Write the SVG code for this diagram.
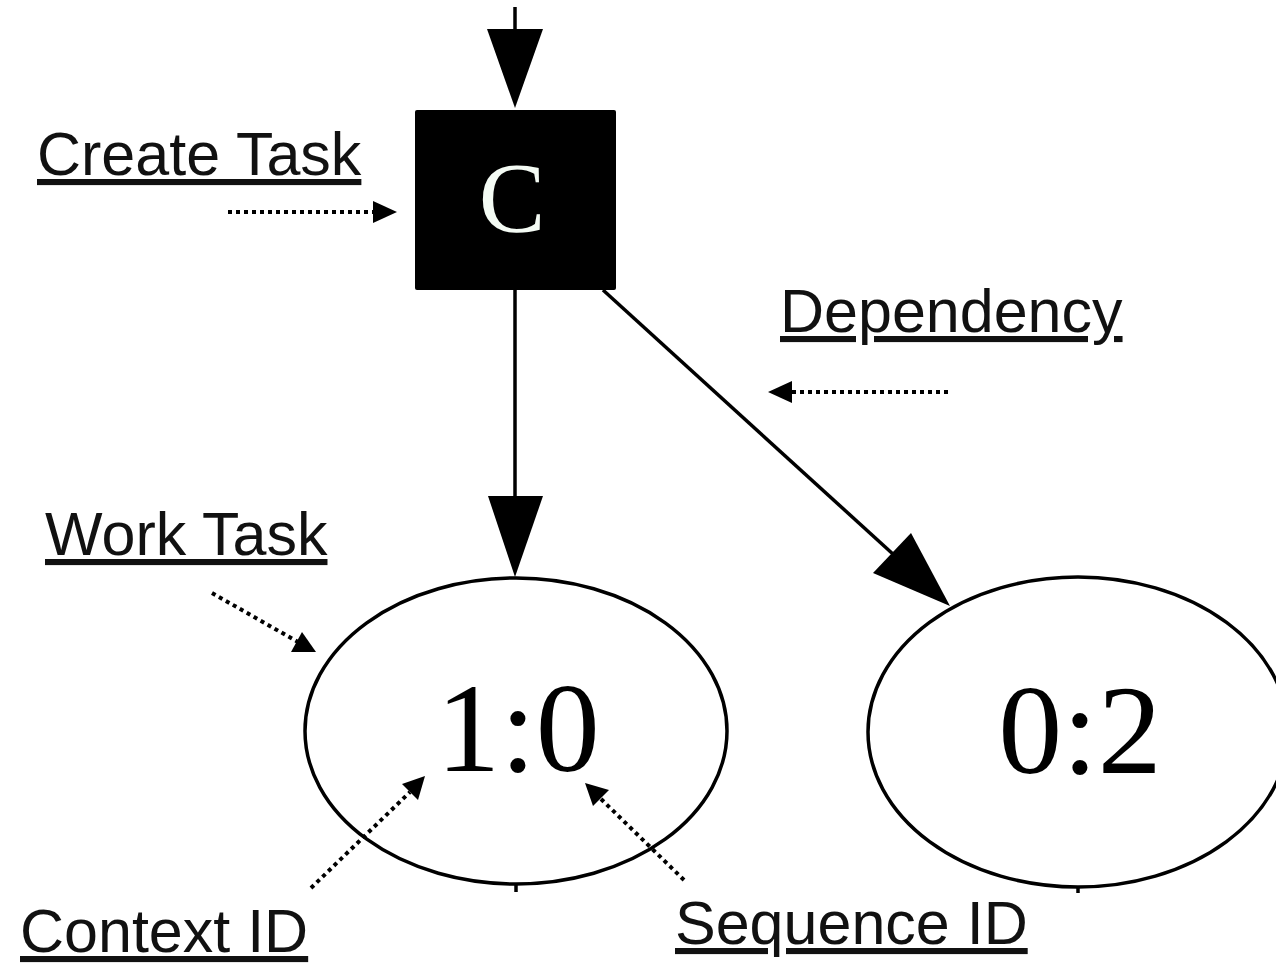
<svg xmlns="http://www.w3.org/2000/svg" width="1276" height="965" viewBox="0 0 1276 965">
<style>
.lbl{font-family:"Liberation Sans",Arial,sans-serif;font-size:61px;fill:#111;text-decoration:underline}
.num{font-family:"Liberation Serif","Times New Roman",serif;font-size:128px;fill:#000;text-anchor:middle}
.edge{stroke:#000;stroke-width:3.5;fill:none}
.dot{stroke:#000;stroke-width:4;stroke-dasharray:4 4;fill:none}
.head{fill:#000}
</style>
<rect width="1276" height="965" fill="#fff"/>
<g id="connectors">
  <line class="edge" x1="515" y1="7" x2="515" y2="32"/>
  <polygon class="head" points="487,29 543,29 515,108"/>
  <line class="edge" x1="515" y1="290" x2="515" y2="498"/>
  <polygon class="head" points="488,496 543,496 515,577"/>
  <line class="edge" x1="603" y1="290" x2="894" y2="555"/>
  <polygon class="head" points="873,573 911,533 950,606"/>
  <line class="edge" x1="516" y1="884" x2="516" y2="892"/>
  <line class="edge" x1="1078" y1="886" x2="1078" y2="893"/>
</g>
<g id="annotations">
  <line class="dot" x1="228" y1="212" x2="375" y2="212"/>
  <polygon class="head" points="373,201 397,212 373,223"/>
  <line class="dot" x1="948" y1="392" x2="790" y2="392"/>
  <polygon class="head" points="792,381 768,392 792,403"/>
  <line class="dot" x1="212" y1="593" x2="298" y2="642"/>
  <polygon class="head" points="316,652 291,652 302,632"/>
  <line class="dot" x1="311" y1="888" x2="410" y2="792"/>
  <polygon class="head" points="425,776 418,800 402,784"/>
  <line class="dot" x1="684" y1="880" x2="600" y2="798"/>
  <polygon class="head" points="585,783 609,790 593,806"/>
</g>
<g id="node-create">
  <rect x="415" y="110" width="201" height="180" rx="2" fill="#000"/>
  <text x="512" y="231" font-family="'Liberation Serif','Times New Roman',serif" font-size="100" fill="#f4fbf4" text-anchor="middle">C</text>
</g>
<g id="node-10">
  <ellipse class="edge" cx="516" cy="731" rx="211" ry="153"/>
  <text class="num" x="518" y="771">1:0</text>
</g>
<g id="node-02">
  <ellipse class="edge" cx="1078" cy="732" rx="210" ry="155"/>
  <text class="num" x="1080" y="773">0:2</text>
</g>
<g id="labels">
  <text class="lbl" x="37" y="175">Create Task</text>
  <text class="lbl" x="780" y="332">Dependency</text>
  <text class="lbl" x="45" y="555">Work Task</text>
  <text class="lbl" x="20" y="952">Context ID</text>
  <text class="lbl" x="675" y="944">Sequence ID</text>
</g>
</svg>
